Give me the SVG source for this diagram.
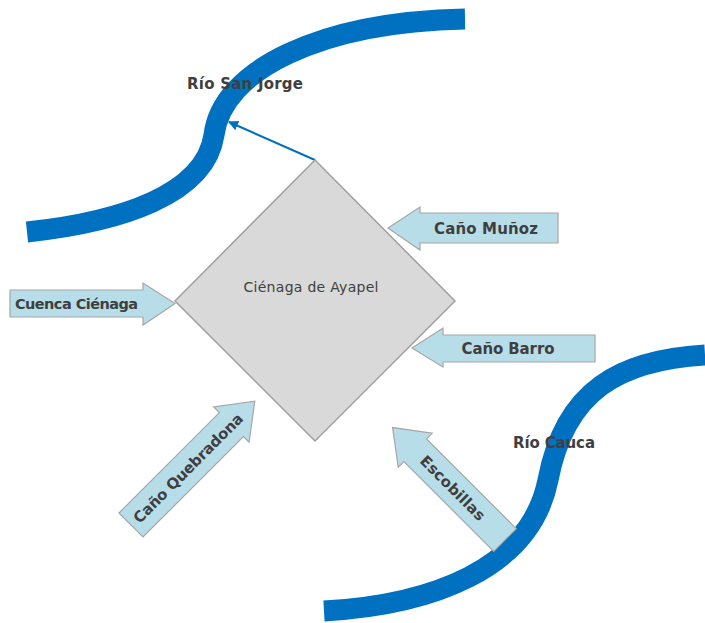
<svg xmlns="http://www.w3.org/2000/svg" width="705" height="623" viewBox="0 0 705 623">
<defs>
<style>
.river{fill:none;stroke:#0070C0;stroke-width:21;}
.blk{fill:#B7DEE8;stroke:#A6A6A6;stroke-width:1.2;}
.lbl{font-family:"DejaVu Sans",Verdana,sans-serif;font-weight:bold;font-size:15px;fill:#3F3F3F;text-anchor:middle;}
.rlbl{font-family:"DejaVu Sans",Verdana,sans-serif;font-weight:bold;font-size:15px;fill:#3F3F3F;}
.node{fill:#D9D9D9;stroke:#A0A0A0;stroke-width:1.5;}
.ntxt{font-family:"DejaVu Sans",Verdana,sans-serif;font-size:14px;fill:#404040;text-anchor:middle;}
</style>
<marker id="ah" viewBox="0 0 10 10" refX="9" refY="5" markerWidth="5" markerHeight="5" orient="auto" markerUnits="strokeWidth">
<path d="M0,0 L10,5 L0,10 z" fill="#0070C0"/>
</marker>
</defs>
<rect width="705" height="623" fill="#FFFFFF"/>

<g id="rio-san-jorge">
<path class="river" d="M27,232 C120,222 205,195 214,135 C222,70 320,22 465,19"/>
<text class="rlbl" x="187" y="89" textLength="116">Río San Jorge</text>
</g>

<g id="rio-cauca">
<path class="river" d="M324,611 C430,605 530,570 548,480 C565,390 620,360 705,355"/>
<text class="rlbl" x="513" y="448" textLength="82">Río Cauca</text>
</g>

<g id="connectors">
<line x1="315" y1="160" x2="229" y2="122" stroke="#0070C0" stroke-width="2" marker-end="url(#ah)"/>
</g>

<g id="cienaga-de-ayapel">
<polygon class="node" points="315,160 455,301 315,441 175,301"/>
<text class="ntxt" x="311" y="292" textLength="135">Ciénaga de Ayapel</text>
</g>

<g id="cano-munoz">
<polygon class="blk" points="558,213 420,213 420,207 388,228 420,250 420,243 558,243"/>
<text class="lbl" x="486" y="233.5" textLength="104">Caño Muñoz</text>
</g>

<g id="cano-barro">
<polygon class="blk" points="595,335 443,335 443,328 412,348 443,367 443,362 595,362"/>
<text class="lbl" x="508" y="353.5" textLength="93">Caño Barro</text>
</g>

<g id="cuenca-cienaga">
<polygon class="blk" points="10,290 143,290 143,283 175,303.5 143,325 143,317 10,317"/>
<text class="lbl" x="76.5" y="309" textLength="123" style="font-size:14.5px">Cuenca Ciénaga</text>
</g>

<g id="cano-quebradona">
<polygon class="blk" transform="translate(131,525) rotate(-45)" points="0,-17 142,-17 142,-25 175,0 142,25 142,17 0,17"/>
<text class="lbl" transform="translate(188,468) rotate(-45)" x="0" y="5.5" textLength="148">Caño Quebradona</text>
</g>

<g id="escobillas">
<polygon class="blk" transform="translate(505,540) rotate(-135)" points="0,-16 127,-16 127,-24 159,0 127,24 127,16 0,16"/>
<text class="lbl" transform="translate(453,488) rotate(45)" x="0" y="5.5" textLength="85">Escobillas</text>
</g>
</svg>
